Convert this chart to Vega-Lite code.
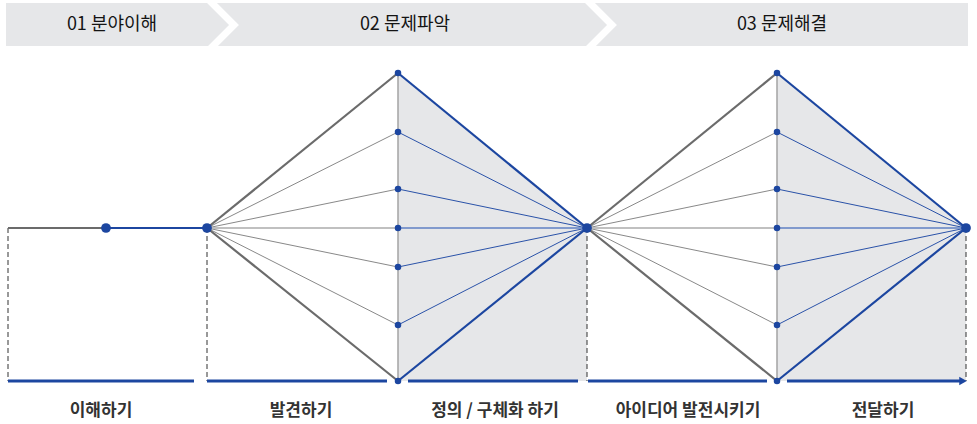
{
  "$schema": "https://vega.github.io/schema/vega-lite/v6.json",
  "width": 977,
  "height": 424,
  "autosize": {"type": "none"},
  "padding": 0,
  "background": "white",
  "config": {"view": {"stroke": null}},
  "datasets": {
    "band": [{"x": 6, "x2": 968, "y": 3, "y2": 46}],
    "chev": [
      {"c": 1, "o": 1, "x": 209, "y": 0}, {"c": 1, "o": 2, "x": 234, "y": 25}, {"c": 1, "o": 3, "x": 209, "y": 50},
      {"c": 2, "o": 1, "x": 587, "y": 0}, {"c": 2, "o": 2, "x": 612, "y": 25}, {"c": 2, "o": 3, "x": 587, "y": 50}
    ],
    "head": [
      {"x": 112, "y": 25, "t": "01 분야이해"},
      {"x": 405, "y": 25, "t": "02 문제파악"},
      {"x": 782, "y": 25, "t": "03 문제해결"}
    ],
    "foot": [
      {"x": 101, "y": 411, "t": "이해하기"},
      {"x": 301, "y": 411, "t": "발견하기"},
      {"x": 495, "y": 411, "t": "정의 / 구체화 하기"},
      {"x": 688, "y": 411, "t": "아이디어 발전시키기"},
      {"x": 883, "y": 411, "t": "전달하기"}
    ],
    "shade": [
      {"g": "A", "x": 398, "top": 73, "bottom": 381}, {"g": "A", "x": 587, "top": 228, "bottom": 381},
      {"g": "B", "x": 777, "top": 73, "bottom": 381}, {"g": "B", "x": 966, "top": 228, "bottom": 381}
    ],
    "dash": [
      {"x": 8, "y": 228, "y2": 381}, {"x": 207, "y": 228, "y2": 381},
      {"x": 587, "y": 228, "y2": 381}, {"x": 966, "y": 228, "y2": 381}
    ],
    "axis": [
      {"x": 398, "y": 73, "y2": 381}, {"x": 777, "y": 73, "y2": 381}
    ],
    "seg": [
      {"s": "gray-outer", "x": 8, "y": 228, "x2": 106, "y2": 228},
      {"s": "blue-outer", "x": 106, "y": 228, "x2": 207, "y2": 228},
      {"s": "gray-outer", "x": 207, "y": 228, "x2": 398, "y2": 73},
      {"s": "gray-inner", "x": 207, "y": 228, "x2": 398, "y2": 132},
      {"s": "gray-inner", "x": 207, "y": 228, "x2": 398, "y2": 189},
      {"s": "gray-mid", "x": 207, "y": 228, "x2": 398, "y2": 228},
      {"s": "gray-inner", "x": 207, "y": 228, "x2": 398, "y2": 267},
      {"s": "gray-inner", "x": 207, "y": 228, "x2": 398, "y2": 325},
      {"s": "gray-outer", "x": 207, "y": 228, "x2": 398, "y2": 381},
      {"s": "blue-outer", "x": 398, "y": 73, "x2": 587, "y2": 228},
      {"s": "blue-inner", "x": 398, "y": 132, "x2": 587, "y2": 228},
      {"s": "blue-inner", "x": 398, "y": 189, "x2": 587, "y2": 228},
      {"s": "blue-mid", "x": 398, "y": 228, "x2": 587, "y2": 228},
      {"s": "blue-inner", "x": 398, "y": 267, "x2": 587, "y2": 228},
      {"s": "blue-inner", "x": 398, "y": 325, "x2": 587, "y2": 228},
      {"s": "blue-outer", "x": 398, "y": 381, "x2": 587, "y2": 228},
      {"s": "gray-outer", "x": 587, "y": 228, "x2": 777, "y2": 73},
      {"s": "gray-inner", "x": 587, "y": 228, "x2": 777, "y2": 132},
      {"s": "gray-inner", "x": 587, "y": 228, "x2": 777, "y2": 189},
      {"s": "gray-mid", "x": 587, "y": 228, "x2": 777, "y2": 228},
      {"s": "gray-inner", "x": 587, "y": 228, "x2": 777, "y2": 267},
      {"s": "gray-inner", "x": 587, "y": 228, "x2": 777, "y2": 325},
      {"s": "gray-outer", "x": 587, "y": 228, "x2": 777, "y2": 381},
      {"s": "blue-outer", "x": 777, "y": 73, "x2": 966, "y2": 228},
      {"s": "blue-inner", "x": 777, "y": 132, "x2": 966, "y2": 228},
      {"s": "blue-inner", "x": 777, "y": 189, "x2": 966, "y2": 228},
      {"s": "blue-mid", "x": 777, "y": 228, "x2": 966, "y2": 228},
      {"s": "blue-inner", "x": 777, "y": 267, "x2": 966, "y2": 228},
      {"s": "blue-inner", "x": 777, "y": 325, "x2": 966, "y2": 228},
      {"s": "blue-outer", "x": 777, "y": 381, "x2": 966, "y2": 228},
      {"s": "base", "x": 8, "y": 381, "x2": 194, "y2": 381},
      {"s": "base", "x": 207, "y": 381, "x2": 387, "y2": 381},
      {"s": "base", "x": 408, "y": 381, "x2": 578, "y2": 381},
      {"s": "base", "x": 588, "y": 381, "x2": 767, "y2": 381},
      {"s": "base", "x": 787, "y": 381, "x2": 960, "y2": 381}
    ],
    "dots": [
      {"k": "big", "x": 106, "y": 228}, {"k": "big", "x": 207, "y": 228},
      {"k": "big", "x": 587, "y": 228}, {"k": "big", "x": 966, "y": 228},
      {"k": "small", "x": 398, "y": 73}, {"k": "small", "x": 398, "y": 132}, {"k": "small", "x": 398, "y": 189},
      {"k": "small", "x": 398, "y": 228}, {"k": "small", "x": 398, "y": 267}, {"k": "small", "x": 398, "y": 325},
      {"k": "small", "x": 398, "y": 381},
      {"k": "small", "x": 777, "y": 73}, {"k": "small", "x": 777, "y": 132}, {"k": "small", "x": 777, "y": 189},
      {"k": "small", "x": 777, "y": 228}, {"k": "small", "x": 777, "y": 267}, {"k": "small", "x": 777, "y": 325},
      {"k": "small", "x": 777, "y": 381}
    ],
    "arrow": [{"x": 963, "y": 381}]
  },
  "encoding": {
    "x": {"field": "x", "type": "quantitative", "scale": {"domain": [0, 977], "nice": false, "zero": false}, "axis": null},
    "y": {"field": "y", "type": "quantitative", "scale": {"domain": [0, 424], "nice": false, "zero": false, "reverse": true}, "axis": null}
  },
  "layer": [
    {
      "data": {"name": "band"},
      "mark": {"type": "rect", "color": "#e6e7e9"},
      "encoding": {"x2": {"field": "x2"}, "y2": {"field": "y2"}}
    },
    {
      "data": {"name": "chev"},
      "mark": {"type": "line", "color": "white", "strokeWidth": 7, "strokeJoin": "miter", "strokeCap": "butt"},
      "encoding": {"detail": {"field": "c"}, "order": {"field": "o"}}
    },
    {
      "data": {"name": "head"},
      "mark": {"type": "text", "font": "Noto Sans CJK KR", "fontSize": 18, "fontWeight": 400, "color": "#141414", "align": "center", "baseline": "middle"},
      "encoding": {"text": {"field": "t"}}
    },
    {
      "data": {"name": "shade"},
      "mark": {"type": "area", "color": "#e6e7e9", "opacity": 1},
      "encoding": {"y": {"field": "top"}, "y2": {"field": "bottom"}, "detail": {"field": "g"}}
    },
    {
      "data": {"name": "dash"},
      "mark": {"type": "rule", "color": "#333333", "strokeWidth": 1, "strokeDash": [5, 3]},
      "encoding": {"y2": {"field": "y2"}}
    },
    {
      "data": {"name": "axis"},
      "mark": {"type": "rule", "color": "#a3a3a3", "strokeWidth": 1.5},
      "encoding": {"y2": {"field": "y2"}}
    },
    {
      "data": {"name": "seg"},
      "transform": [{"filter": "datum.s === 'gray-inner'"}],
      "mark": {"type": "rule", "color": "#7a7a7a", "strokeWidth": 0.9},
      "encoding": {"x2": {"field": "x2"}, "y2": {"field": "y2"}}
    },
    {
      "data": {"name": "seg"},
      "transform": [{"filter": "datum.s === 'gray-mid'"}],
      "mark": {"type": "rule", "color": "#ababab", "strokeWidth": 1.3},
      "encoding": {"x2": {"field": "x2"}, "y2": {"field": "y2"}}
    },
    {
      "data": {"name": "seg"},
      "transform": [{"filter": "datum.s === 'gray-outer'"}],
      "mark": {"type": "rule", "color": "#6b6b6b", "strokeWidth": 2.2},
      "encoding": {"x2": {"field": "x2"}, "y2": {"field": "y2"}}
    },
    {
      "data": {"name": "seg"},
      "transform": [{"filter": "datum.s === 'blue-inner'"}],
      "mark": {"type": "rule", "color": "#2a52a8", "strokeWidth": 1},
      "encoding": {"x2": {"field": "x2"}, "y2": {"field": "y2"}}
    },
    {
      "data": {"name": "seg"},
      "transform": [{"filter": "datum.s === 'blue-mid'"}],
      "mark": {"type": "rule", "color": "#5f80c3", "strokeWidth": 1.3},
      "encoding": {"x2": {"field": "x2"}, "y2": {"field": "y2"}}
    },
    {
      "data": {"name": "seg"},
      "transform": [{"filter": "datum.s === 'blue-outer'"}],
      "mark": {"type": "rule", "color": "#1c46a0", "strokeWidth": 2.2},
      "encoding": {"x2": {"field": "x2"}, "y2": {"field": "y2"}}
    },
    {
      "data": {"name": "seg"},
      "transform": [{"filter": "datum.s === 'base'"}],
      "mark": {"type": "rule", "color": "#1c46a0", "strokeWidth": 2.8, "strokeCap": "butt"},
      "encoding": {"x2": {"field": "x2"}, "y2": {"field": "y2"}}
    },
    {
      "data": {"name": "dots"},
      "transform": [{"filter": "datum.k === 'big'"}],
      "mark": {"type": "point", "filled": true, "opacity": 1, "color": "#1c46a0", "shape": "circle", "size": 95}
    },
    {
      "data": {"name": "dots"},
      "transform": [{"filter": "datum.k === 'small'"}],
      "mark": {"type": "point", "filled": true, "opacity": 1, "color": "#1c46a0", "shape": "circle", "size": 42}
    },
    {
      "data": {"name": "arrow"},
      "mark": {"type": "point", "filled": true, "opacity": 1, "color": "#1c46a0", "shape": "triangle-right", "size": 75}
    },
    {
      "data": {"name": "foot"},
      "mark": {"type": "text", "font": "Noto Sans CJK KR", "fontSize": 17, "fontWeight": 600, "color": "#333333", "align": "center", "baseline": "middle"},
      "encoding": {"text": {"field": "t"}}
    }
  ]
}
